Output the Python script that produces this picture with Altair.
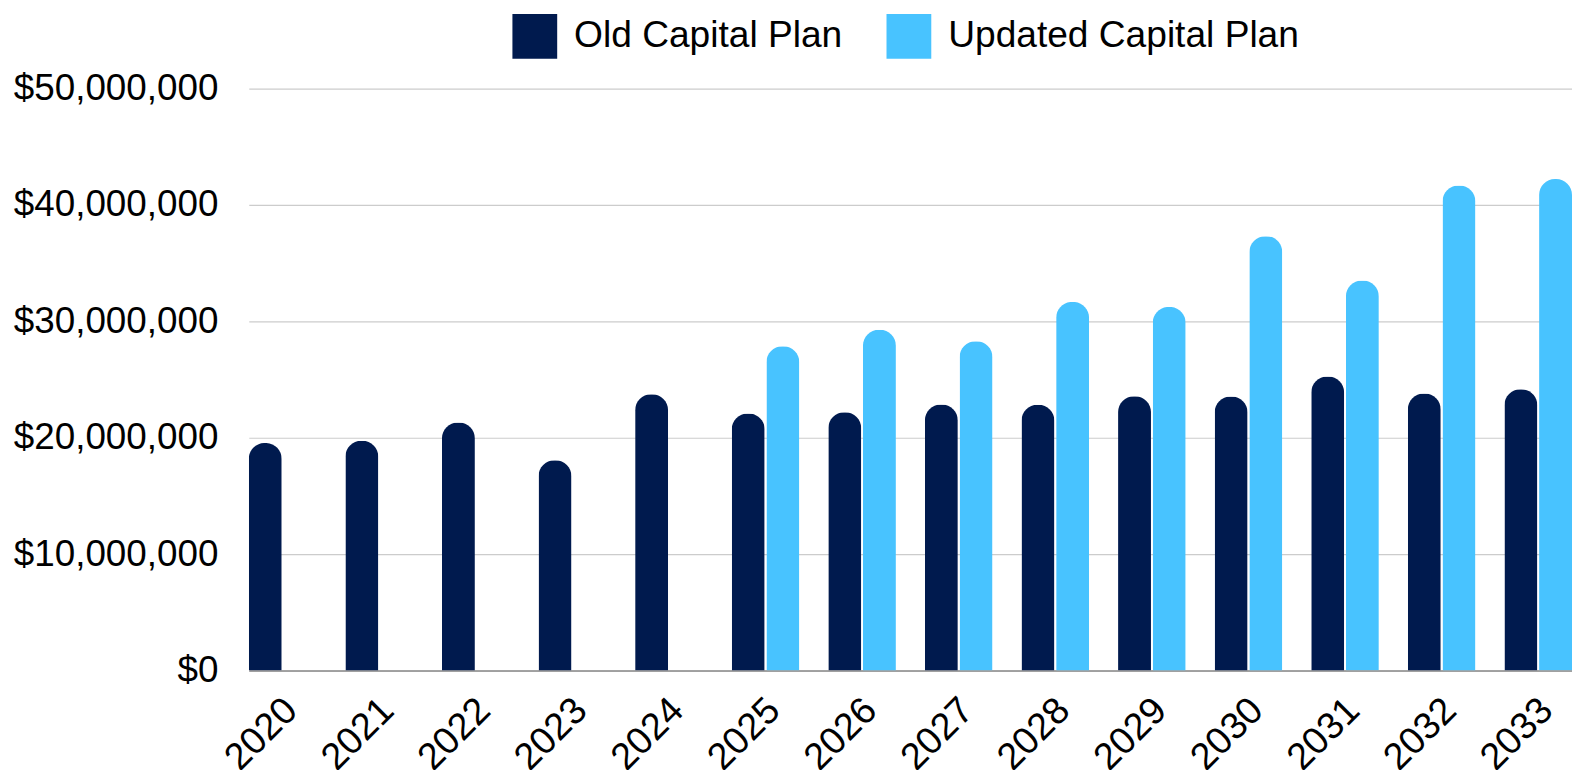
import altair as alt
import pandas as pd

years = ["2020", "2021", "2022", "2023", "2024", "2025", "2026", "2027",
         "2028", "2029", "2030", "2031", "2032", "2033"]
old_plan = [19.55e6, 19.75e6, 21.3e6, 18.07e6, 23.74e6, 22.09e6, 22.2e6,
            22.86e6, 22.83e6, 23.57e6, 23.55e6, 25.26e6, 23.8e6, 24.17e6]
updated_years = ["2025", "2026", "2027", "2028", "2029", "2030", "2031", "2032", "2033"]
updated_plan = [27.85e6, 29.28e6, 28.28e6, 31.67e6, 31.24e6, 37.32e6, 33.5e6,
                41.68e6, 42.22e6]
series = ["Old Capital Plan", "Updated Capital Plan"]
colors = ["#001A4E", "#48C3FF"]
y_ticks = [0, 10e6, 20e6, 30e6, 40e6, 50e6]

rows = [{"year": y, "plan": series[0], "value": v} for y, v in zip(years, old_plan)]
rows += [{"year": y, "plan": series[1], "value": v} for y, v in zip(updated_years, updated_plan)]
df = pd.DataFrame(rows)

FONT = "Liberation Sans"

chart = alt.Chart(df).mark_bar(
    cornerRadiusTopLeft=16, cornerRadiusTopRight=16
).encode(
    x=alt.X("year:N", sort=years, title=None,
            scale=alt.Scale(paddingInner=0.30, paddingOuter=0),
            axis=alt.Axis(labelAngle=-45, labelAlign="right", labelBaseline="middle",
                          labelFontSize=38, labelFont=FONT, labelColor="black",
                          labelPadding=34, labelOffset=9, labelLimit=0, ticks=False,
                          domain=True, domainColor="#8c8c8c", domainWidth=1.5,
                          grid=False)),
    xOffset=alt.XOffset("plan:N", sort=series,
                        scale=alt.Scale(domain=series, paddingInner=0.05, paddingOuter=0)),
    y=alt.Y("value:Q", title=None,
            scale=alt.Scale(domain=[0, 50e6], nice=False),
            axis=alt.Axis(values=y_ticks, format="$,.0f", labelFontSize=37,
                          labelFont=FONT, labelColor="black", labelPadding=31,
                          labelLimit=0, ticks=False, domain=False, grid=True,
                          gridColor="#cccccc", gridWidth=1.2)),
    color=alt.Color("plan:N", sort=series,
                    scale=alt.Scale(domain=series, range=colors),
                    legend=alt.Legend(title=None, orient="none", legendX=265, legendY=-75,
                                      direction="horizontal", symbolType="square",
                                      symbolSize=2025, symbolStrokeWidth=0,
                                      labelFontSize=37.3, labelFont=FONT, labelColor="black",
                                      labelLimit=0, labelOffset=17, columnPadding=44,
                                      padding=0)),
).properties(
    width=1330, height=585,
    autosize=alt.AutoSizeParams(type="none"),
    padding={"left": 242, "top": 79, "right": 0, "bottom": 98},
).configure_view(stroke=None)

chart.save("out.html", embed_options={"renderer": "svg", "actions": False})
